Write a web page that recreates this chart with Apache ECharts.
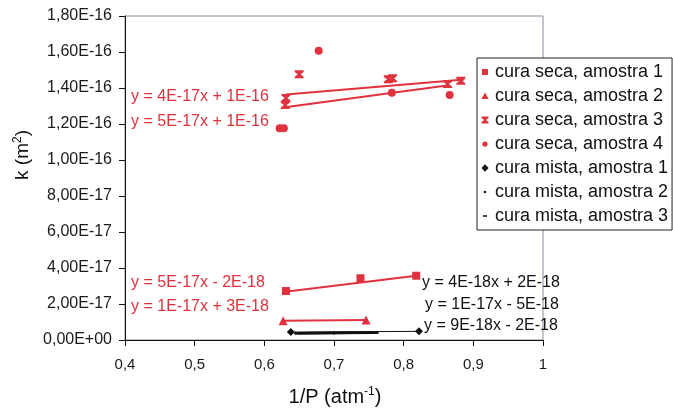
<!DOCTYPE html>
<html>
<head>
<meta charset="utf-8">
<script src="https://cdn.jsdelivr.net/npm/echarts@6/dist/echarts.min.js"></script>
<style>
  html, body { margin: 0; padding: 0; background: #ffffff; }
  #chart { width: 673px; height: 410px; }
</style>
</head>
<body>
<div id="chart"></div>
<script>
// Permeability k (m²) versus inverse pressure 1/P (atm⁻¹)

const seriesNames = [
  'cura seca, amostra 1',
  'cura seca, amostra 2',
  'cura seca, amostra 3',
  'cura seca, amostra 4',
  'cura mista, amostra 1',
  'cura mista, amostra 2',
  'cura mista, amostra 3'
];

// measured points
const seca1X = [0.631, 0.738, 0.818];
const seca1Y = [2.72e-17, 3.43e-17, 3.57e-17];
const seca2X = [0.627, 0.746];
const seca2Y = [1.07e-17, 1.11e-17];
const seca3X = [0.630, 0.631, 0.650, 0.778, 0.784, 0.863, 0.882];
const seca3Y = [1.305e-16, 1.345e-16, 1.476e-16, 1.448e-16, 1.454e-16, 1.422e-16, 1.440e-16];
const seca4X = [0.622, 0.628, 0.678, 0.783, 0.866];
const seca4Y = [1.176e-16, 1.176e-16, 1.607e-16, 1.374e-16, 1.361e-16];
const mista1X = [0.638, 0.822];
const mista1Y = [4.4e-18, 4.8e-18];
const mista2X = [0.645, 0.700, 0.762];
const mista2Y = [3.8e-18, 3.9e-18, 4.1e-18];
const mista3X = [0.650, 0.757];
const mista3Y = [3.7e-18, 4.0e-18];

// fitted trend lines (start and end of each fit)
const trendSeca1X = [0.630, 0.818];
const trendSeca1Y = [2.68e-17, 3.57e-17];
const trendSeca2X = [0.627, 0.746];
const trendSeca2Y = [1.07e-17, 1.11e-17];
const trendSeca3X = [0.631, 0.887];
const trendSeca3Y = [1.364e-16, 1.447e-16];
const trendSeca4X = [0.627, 0.862];
const trendSeca4Y = [1.292e-16, 1.414e-16];
const trendMista1X = [0.638, 0.822];
const trendMista1Y = [4.4e-18, 4.8e-18];
const trendMista2X = [0.645, 0.762];
const trendMista2Y = [3.8e-18, 4.1e-18];
const trendMista3X = [0.650, 0.757];
const trendMista3Y = [3.7e-18, 4.0e-18];

// trend equations
const eqSeca = ['y = 4E-17x + 1E-16', 'y = 5E-17x + 1E-16', 'y = 5E-17x - 2E-18', 'y = 1E-17x + 3E-18'];
const eqMista = ['y = 4E-18x + 2E-18', 'y = 1E-17x - 5E-18', 'y = 9E-18x - 2E-18'];

// axis ranges
const xMin = 0.4, xMax = 1, xStep = 0.1;
const yMin = 0, yMax = 1.8e-16, yStep = 2e-17;

const RED = '#e0323e';
const BLACK = '#111111';
const FONT = "'Liberation Sans', Arial, sans-serif";

function pairs(xs, ys) { return xs.map((x, i) => [x, ys[i]]); }

function sci(v) {
  if (Math.abs(v) < 1e-30) return '0,00E+00';
  let e = Math.floor(Math.log10(Math.abs(v)));
  let s = (v / Math.pow(10, e)).toFixed(2);
  if (parseFloat(s) >= 10) { e += 1; s = (v / Math.pow(10, e)).toFixed(2); }
  const sign = e < 0 ? '-' : '+';
  const ae = Math.abs(e);
  return s.replace('.', ',') + 'E' + sign + (ae < 10 ? '0' + ae : String(ae));
}

// marker shapes
const HOURGLASS = 'path://M0,0 L10,0 L10,2 L6.5,5 L10,8 L10,10 L0,10 L0,8 L3.5,5 L0,2 Z';
// legend icons drawn inside a fixed 10x10 frame so they keep their own size
const FRAME = ' M0,0 L0,0 Z M10,10 L10,10 Z';
const legendIcons = [
  'path://M2,2 L8,2 L8,8 L2,8 Z' + FRAME,
  'path://M5,1.5 L8.6,8 L1.4,8 Z' + FRAME,
  'path://M1.5,1.5 L8.5,1.5 L8.5,3 L6,5 L8.5,7 L8.5,8.5 L1.5,8.5 L1.5,7 L4,5 L1.5,3 Z' + FRAME,
  'path://M5,2.4 A2.6,2.6 0 1 1 4.99,2.4 Z' + FRAME,
  'path://M5,1.2 L8.6,5 L5,8.8 L1.4,5 Z' + FRAME,
  'path://M5,3.8 A1.2,1.2 0 1 1 4.99,3.8 Z' + FRAME,
  'path://M3,4.3 L7,4.3 L7,5.7 L3,5.7 Z' + FRAME
];

function trend(name, xs, ys, color, width) {
  return {
    type: 'line', name: name + ' (ajuste)', data: pairs(xs, ys),
    showSymbol: false, symbol: 'none', silent: true, z: 2,
    lineStyle: { color: color, width: width }, animation: false
  };
}
function points(name, xs, ys, symbol, size, color) {
  return {
    type: 'scatter', name: name, data: pairs(xs, ys),
    symbol: symbol, symbolSize: size, z: 3, animation: false,
    itemStyle: { color: color, opacity: 1 }
  };
}

const chart = echarts.init(document.getElementById('chart'), null, { renderer: 'canvas' });

const labelGraphics = [];
const redY = [98, 123, 284, 308];
eqSeca.forEach((t, i) => labelGraphics.push({
  type: 'text', left: 131, top: redY[i] - 9,
  style: { text: t, fill: RED, font: '16px ' + FONT }
}));
const blackY = [284, 306, 327];
const blackX = [422, 425, 424];
eqMista.forEach((t, i) => labelGraphics.push({
  type: 'text', left: blackX[i], top: blackY[i] - 9,
  style: { text: t, fill: BLACK, font: '16px ' + FONT }
}));

chart.setOption({
  animation: false,
  backgroundColor: '#ffffff',
  textStyle: { fontFamily: FONT },
  grid: {
    left: 125, right: 130, top: 16, bottom: 70,
    show: true, borderColor: '#8a8a9a', borderWidth: 1, backgroundColor: 'transparent'
  },
  xAxis: {
    type: 'value', min: xMin, max: xMax, interval: xStep,
    axisLine: { show: true, lineStyle: { color: BLACK, width: 1 } },
    axisTick: { show: true, inside: false, length: 6, lineStyle: { color: BLACK } },
    splitLine: { show: false },
    axisLabel: {
      color: '#1a1a1a', fontSize: 15, margin: 17, fontFamily: FONT,
      formatter: v => String(Math.round(v * 10) / 10).replace('.', ',')
    }
  },
  yAxis: {
    type: 'value', min: yMin, max: yMax, interval: yStep,
    axisLine: { show: true, lineStyle: { color: BLACK, width: 1 } },
    axisTick: { show: true, inside: false, length: 6, lineStyle: { color: BLACK } },
    splitLine: { show: false },
    axisLabel: { color: '#1a1a1a', fontSize: 16, margin: 13, fontFamily: FONT, formatter: sci }
  },
  legend: {
    orient: 'vertical', left: 477, top: 58,
    backgroundColor: '#ffffff', borderColor: '#222222', borderWidth: 1,
    padding: [5, 4, 5, 3],
    itemWidth: 10, itemHeight: 10, itemGap: 6,
    textStyle: { color: '#111111', fontSize: 18, fontFamily: FONT },
    data: seriesNames.map((n, i) => ({ name: n, icon: legendIcons[i] }))
  },
  graphic: [
    {
      type: 'text', x: 335, y: 397,
      style: {
        text: '1/P (atm{sup|-1})', fill: '#111', font: '20px ' + FONT,
        align: 'center', verticalAlign: 'middle',
        rich: { sup: { fontSize: 12, padding: [0, 0, 10, 0], fill: '#111' } }
      }
    },
    {
      type: 'text', rotation: Math.PI / 2, x: 23, y: 155,
      style: {
        text: 'k (m{sup|2})', fill: '#111', font: '19px ' + FONT,
        rich: { sup: { fontSize: 12, padding: [0, 0, 10, 0], fill: '#111' } },
        align: 'center', verticalAlign: 'middle'
      }
    }
  ].concat(labelGraphics),
  series: [
    trend(seriesNames[0], trendSeca1X, trendSeca1Y, RED, 2),
    trend(seriesNames[1], trendSeca2X, trendSeca2Y, RED, 2),
    trend(seriesNames[2], trendSeca3X, trendSeca3Y, RED, 2),
    trend(seriesNames[3], trendSeca4X, trendSeca4Y, RED, 2),
    trend(seriesNames[4], trendMista1X, trendMista1Y, BLACK, 1),
    trend(seriesNames[5], trendMista2X, trendMista2Y, BLACK, 2.5),
    trend(seriesNames[6], trendMista3X, trendMista3Y, BLACK, 2.5),
    points(seriesNames[0], seca1X, seca1Y, 'rect', 8, RED),
    points(seriesNames[1], seca2X, seca2Y, 'triangle', 9, RED),
    points(seriesNames[2], seca3X, seca3Y, HOURGLASS, [9, 8], RED),
    points(seriesNames[3], seca4X, seca4Y, 'circle', 8, RED),
    points(seriesNames[4], mista1X, mista1Y, 'diamond', 8, BLACK),
    points(seriesNames[5], mista2X, mista2Y, 'circle', 3, BLACK),
    points(seriesNames[6], mista3X, mista3Y, 'rect', [4, 2], BLACK)
  ]
});
</script>
</body>
</html>
